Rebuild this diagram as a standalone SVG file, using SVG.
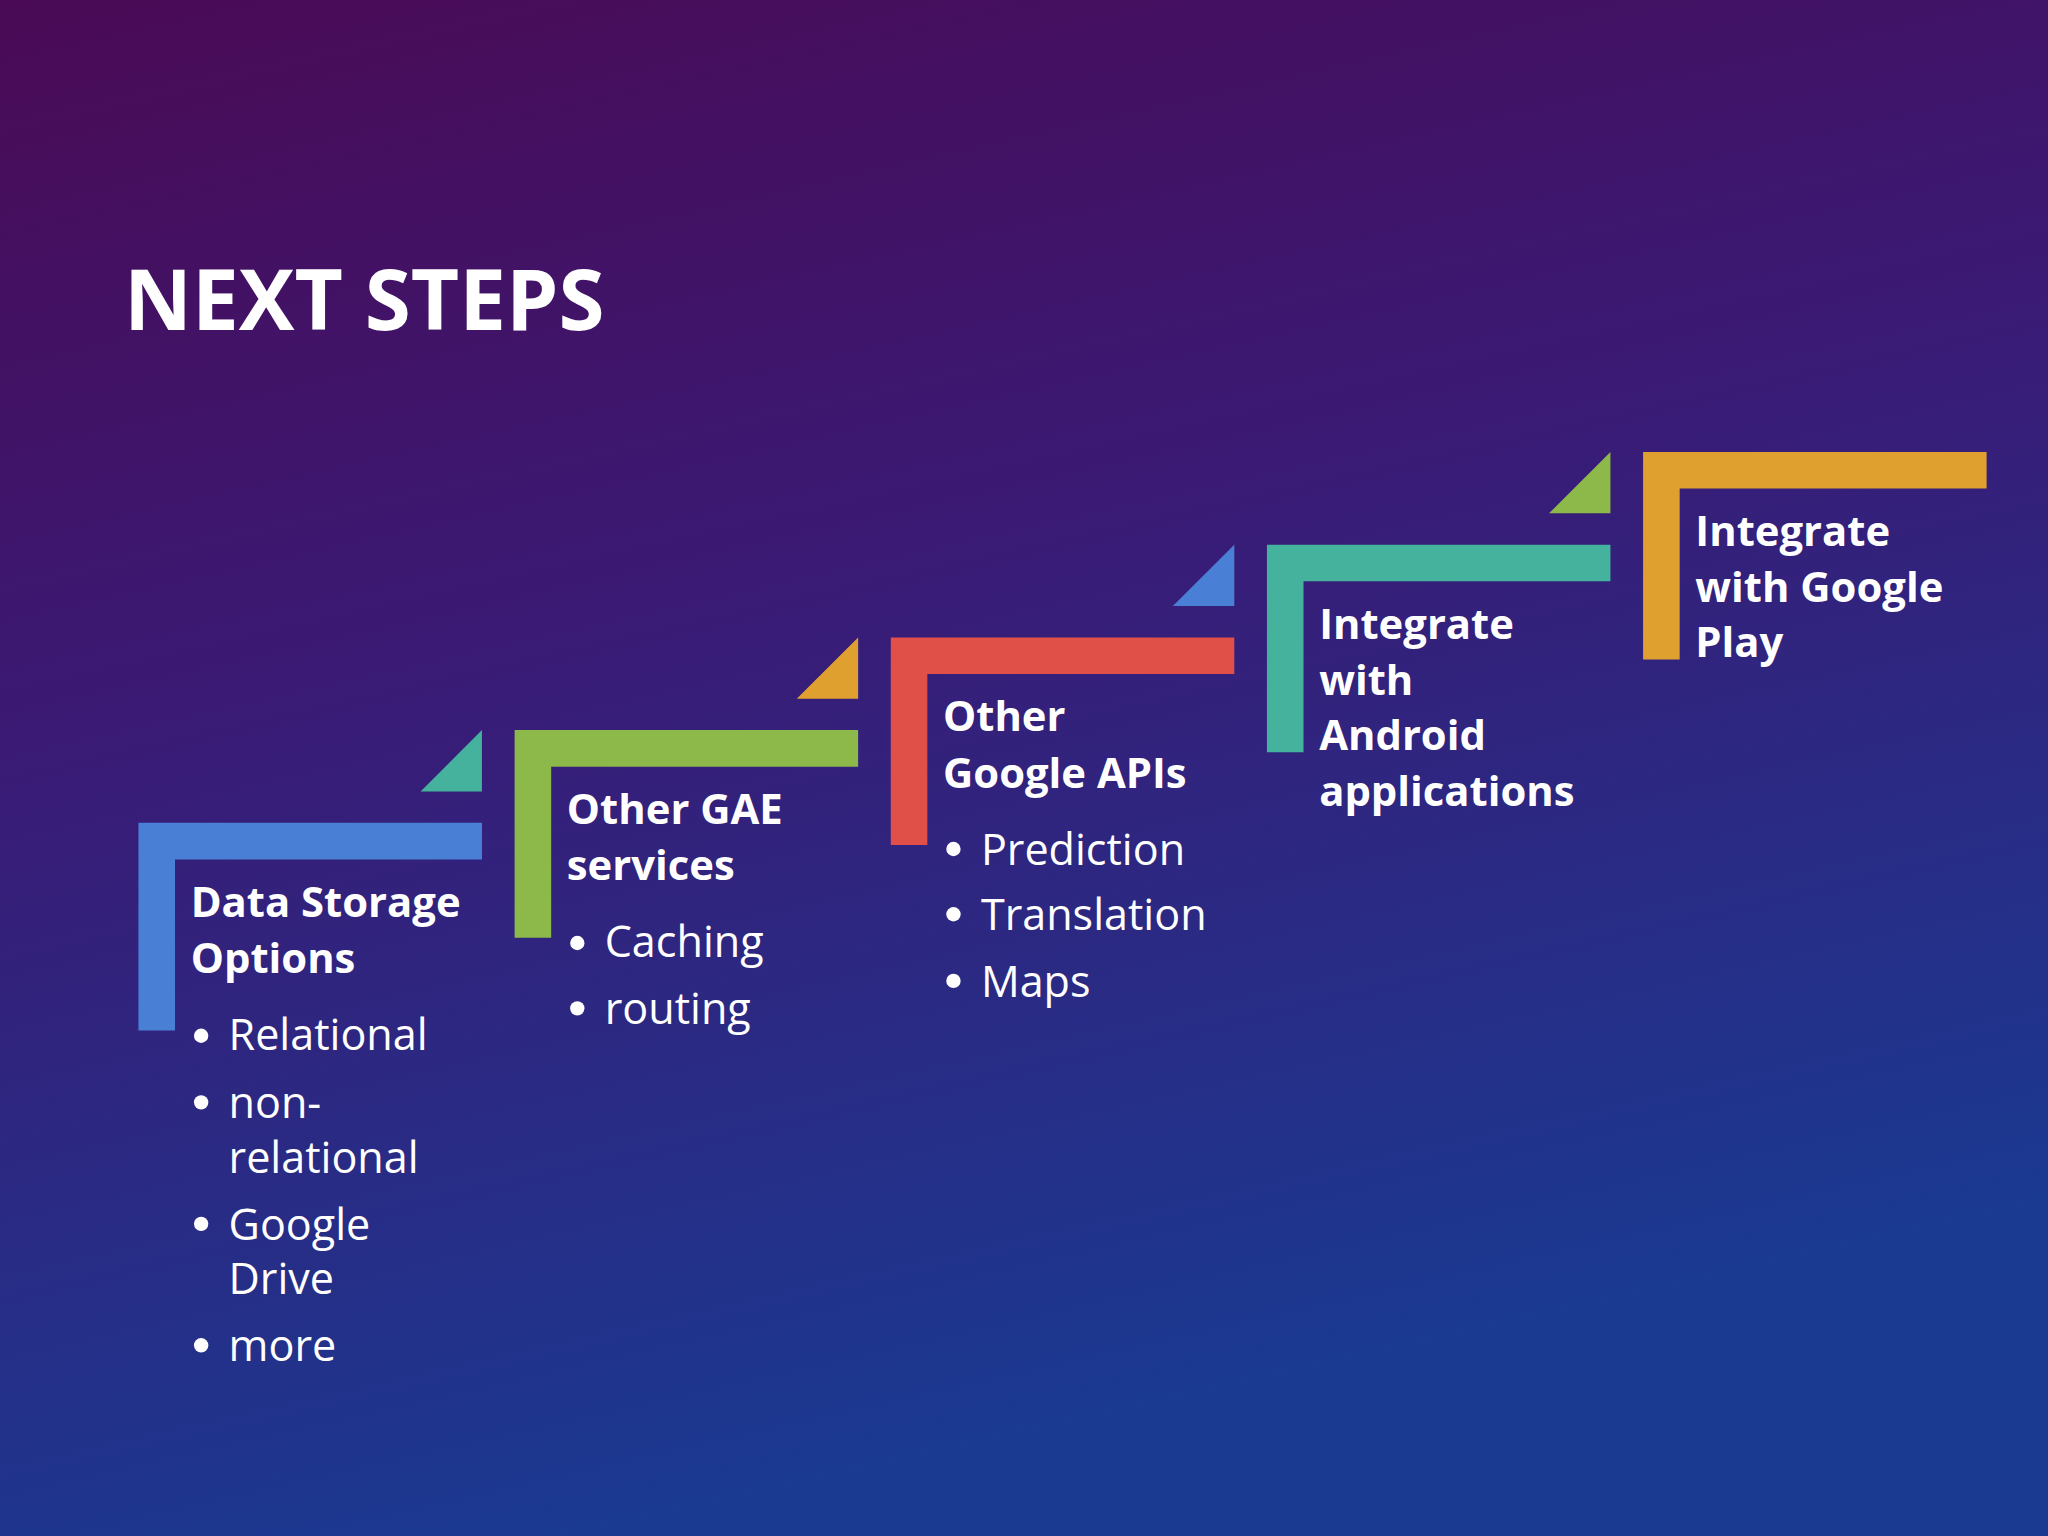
<svg xmlns="http://www.w3.org/2000/svg" width="2048" height="1536" viewBox="0 0 2048 1536">
<defs>
<linearGradient id="bg" x1="0" y1="0" x2="0.3" y2="1">
<stop offset="0" stop-color="#4a0a55"/>
<stop offset="0.45" stop-color="#3a1a75"/>
<stop offset="1" stop-color="#1a3a92"/>
</linearGradient>
<style>
.h{font-family:"Open Sans","Noto Sans",sans-serif;font-weight:bold;font-size:32px;fill:#fff}
.b{font-family:"Open Sans","Noto Sans",sans-serif;font-size:33px;fill:#fff}
.d{fill:#fff}
</style>
</defs>
<rect width="2048" height="1536" fill="url(#bg)"/>
<g transform="scale(1.30612)">
<text x="95" y="253" font-family="Open Sans,Noto Sans,sans-serif" font-weight="bold" font-size="64" fill="#fff">NEXT STEPS</text>
<g id="step1">
<path d="M106 630H369V658H134V789H106Z" fill="#4a7fd6"/>
<polygon points="322,606 369,559 369,606" fill="#45b29d"/>
<text class="h" x="146" y="702">Data Storage</text>
<text class="h" x="146" y="745">Options</text>
<g class="d"><circle cx="154" cy="793" r="5.5"/><circle cx="154" cy="844" r="5.5"/><circle cx="154" cy="937" r="5.5"/><circle cx="154" cy="1030" r="5.5"/></g>
<text class="b"><tspan x="175" y="804">Relational</tspan><tspan x="175" y="856">non-</tspan><tspan x="175" y="898">relational</tspan><tspan x="175" y="949">Google</tspan><tspan x="175" y="991">Drive</tspan><tspan x="175" y="1042">more</tspan></text>
</g>
<g id="step2">
<path d="M394 559H657V587H422V718H394Z" fill="#8db84a"/>
<polygon points="610,535 657,488 657,535" fill="#e0a030"/>
<text class="h" x="434" y="631">Other GAE</text>
<text class="h" x="434" y="674">services</text>
<g class="d"><circle cx="442" cy="722" r="5.5"/><circle cx="442" cy="772" r="5.5"/></g>
<text class="b"><tspan x="463" y="733">Caching</tspan><tspan x="463" y="784">routing</tspan></text>
</g>
<g id="step3">
<path d="M682 488H945V516H710V647H682Z" fill="#e05048"/>
<polygon points="898,464 945,417 945,464" fill="#4a7fd6"/>
<text class="h" x="722" y="560">Other</text>
<text class="h" x="722" y="603">Google APIs</text>
<g class="d"><circle cx="730" cy="650" r="5.5"/><circle cx="730" cy="700" r="5.5"/><circle cx="730" cy="751" r="5.5"/></g>
<text class="b"><tspan x="751" y="662">Prediction</tspan><tspan x="751" y="712">Translation</tspan><tspan x="751" y="763">Maps</tspan></text>
</g>
<g id="step4">
<path d="M970 417H1233V445H998V576H970Z" fill="#45b29d"/>
<polygon points="1186,393 1233,346 1233,393" fill="#8db84a"/>
<text class="h"><tspan x="1010" y="489">Integrate</tspan><tspan x="1010" y="532">with</tspan><tspan x="1010" y="574">Android</tspan><tspan x="1010" y="617">applications</tspan></text>
</g>
<g id="step5">
<path d="M1258 346H1521V374H1286V505H1258Z" fill="#e0a030"/>
<text class="h"><tspan x="1298" y="418">Integrate</tspan><tspan x="1298" y="461">with Google</tspan><tspan x="1298" y="503">Play</tspan></text>
</g>
</g>
</svg>
